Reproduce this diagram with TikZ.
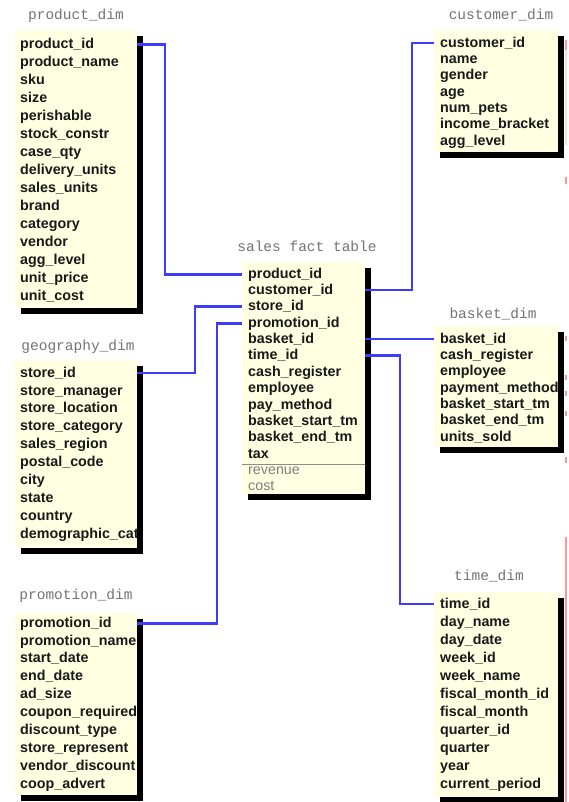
\documentclass[tikz,border=0pt]{standalone}
\usepackage{fontspec}
\setmainfont{Liberation Sans}
\newfontfamily\titlefont{Liberation Mono}
\usetikzlibrary{shadows,calc}
\definecolor{boxfill}{RGB}{255,255,226}
\definecolor{connblue}{RGB}{60,60,250}
\definecolor{edgered}{RGB}{255,150,150}
\tikzset{
 tbl/.style={fill=boxfill, draw=none, anchor=north west, inner sep=0pt, outer sep=0pt,
   general shadow={fill=black, shadow xshift=6pt, shadow yshift=-6pt}},
 rowtext/.style={anchor=mid west, inner sep=0pt, font=\fontsize{14.3}{16}\selectfont\bfseries, text=black!90},
 calctext/.style={anchor=mid west, inner sep=0pt, font=\fontsize{14.3}{16}\selectfont, text=black!50},
 tbltitle/.style={inner sep=0pt, font=\fontsize{14.5}{16}\selectfont\titlefont, text=black!55},
 conn/.style={draw=connblue, line width=2.4pt},
 redmark/.style={draw=edgered, line width=2pt}
}
\begin{document}
\begin{tikzpicture}[x=1pt,y=-1pt]
\useasboundingbox (0,0) rectangle (568,802);

% ---- boxes
\node[tbl, minimum width=122pt, minimum height=278pt] (pbox) at (15,30) {};
\node[tbl, minimum width=124pt, minimum height=122pt] (cbox) at (434,30) {};
\node[tbl, minimum width=123pt, minimum height=232pt] (fbox) at (242,262) {};
\node[tbl, minimum width=122pt, minimum height=188pt] (gbox) at (15,360) {};
\node[tbl, minimum width=124pt, minimum height=121pt] (bbox) at (434,326) {};
\node[tbl, minimum width=122pt, minimum height=182pt] (mbox) at (15,613) {};
\node[tbl, minimum width=124pt, minimum height=205pt] (tbox) at (434,592) {};

% ---- titles
\node[tbltitle] (ptitle) at (76,15.5) {product\_dim};
\node[tbltitle] (ctitle) at (501,15.5) {customer\_dim};
\node[tbltitle] (ftitle) at (307,246.5) {sales fact table};
\node[tbltitle] (gtitle) at (78,346.5) {geography\_dim};
\node[tbltitle] (btitle) at (493,314.5) {basket\_dim};
\node[tbltitle] (mtitle) at (76,595.5) {promotion\_dim};
\node[tbltitle] (ttitle) at (489,576.5) {time\_dim};

% ---- product_dim rows
\begin{scope}
\clip (pbox.north west) rectangle (pbox.south east);
\foreach \t [count=\i] in {product\_id,product\_name,sku,size,perishable,stock\_constr,case\_qty,delivery\_units,sales\_units,brand,category,vendor,agg\_level,unit\_price,unit\_cost}
  \node[rowtext] (p\i) at (20,{45.5+(\i-1)*18}) {\t};
\end{scope}

% ---- customer_dim rows
\begin{scope}
\clip (cbox.north west) rectangle (cbox.south east);
\foreach \t [count=\i] in {customer\_id,name,gender,age,num\_pets,income\_bracket,agg\_level}
  \node[rowtext] (c\i) at (440,{44.5+(\i-1)*16.33}) {\t};
\end{scope}

% ---- fact rows
\begin{scope}
\clip (fbox.north west) rectangle (fbox.south east);
\foreach \t [count=\i] in {product\_id,customer\_id,store\_id,promotion\_id,basket\_id,time\_id,cash\_register,employee,pay\_method,basket\_start\_tm,basket\_end\_tm,tax}
  \node[rowtext] (f\i) at (248,{275.5+(\i-1)*16.36}) {\t};
\node[calctext] (frev) at (248,472) {revenue};
\node[calctext] (fcost) at (248,488) {cost};
\end{scope}
\coordinate (divy) at (0,464);
\draw[black!45, line width=1pt] (fbox.west |- divy) -- (fbox.east |- divy);

% ---- geography_dim rows
\begin{scope}
\clip (gbox.north west) rectangle (gbox.south east);
\foreach \t [count=\i] in {store\_id,store\_manager,store\_location,store\_category,sales\_region,postal\_code,city,state,country,demographic\_cat}
  \node[rowtext] (g\i) at (20,{374.5+(\i-1)*17.9}) {\t};
\end{scope}

% ---- basket_dim rows
\begin{scope}
\clip (bbox.north west) rectangle (bbox.south east);
\foreach \t [count=\i] in {basket\_id,cash\_register,employee,payment\_method,basket\_start\_tm,basket\_end\_tm,units\_sold}
  \node[rowtext] (b\i) at (440,{340.5+(\i-1)*16.33}) {\t};
\end{scope}

% ---- promotion_dim rows
\begin{scope}
\clip (mbox.north west) rectangle (mbox.south east);
\foreach \t [count=\i] in {promotion\_id,promotion\_name,start\_date,end\_date,ad\_size,coupon\_required,discount\_type,store\_represent,vendor\_discount,coop\_advert}
  \node[rowtext] (m\i) at (20,{624.5+(\i-1)*17.9}) {\t};
\end{scope}

% ---- time_dim rows
\begin{scope}
\clip (tbox.north west) rectangle (tbox.south east);
\foreach \t [count=\i] in {time\_id,day\_name,day\_date,week\_id,week\_name,fiscal\_month\_id,fiscal\_month,quarter\_id,quarter,year,current\_period}
  \node[rowtext] (t\i) at (440,{605.5+(\i-1)*18}) {\t};
\end{scope}

% ---- connectors
\draw[conn] (pbox.east |- p1) -- ++(28,0) |- (fbox.west |- f1);
\draw[conn] (fbox.east |- f2) -- ++(47,0) |- (cbox.west |- c1);
\draw[conn] (fbox.west |- f3) -- ++(-47,0) |- (gbox.east |- g1);
\draw[conn] (fbox.west |- f4) -- ++(-25,0) |- (mbox.east |- m1);
\draw[conn] (fbox.east |- f5) -- (bbox.west |- f5);
\draw[conn] (fbox.east |- f6) -- ++(35,0) |- (tbox.west |- t1);

% ---- faint red marks at the right edge
\draw[redmark, opacity=0.35, line width=1.5pt] (566,43) -- (566,145);
\draw[redmark] (566,40) -- (566,50);
\draw[redmark] (566,177) -- (566,184);
\draw[redmark] (566,336) -- (566,341);
\draw[redmark] (566,375) -- (566,380);
\draw[redmark] (566,391) -- (566,396);
\draw[redmark] (566,411) -- (566,416);
\draw[redmark] (566,457) -- (566,463);
\draw[redmark] (566,537) -- (566,802);
\end{tikzpicture}
\end{document}
